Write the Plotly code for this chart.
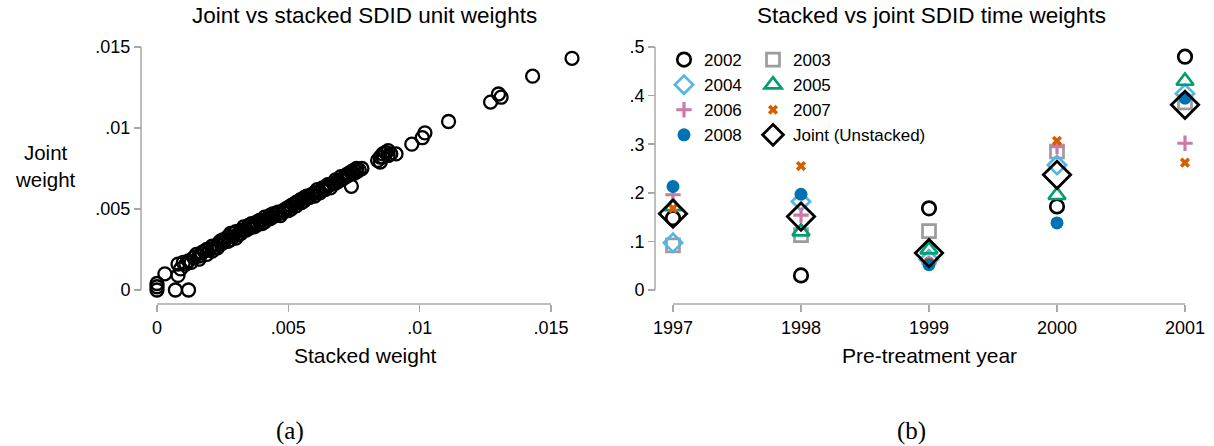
import plotly.graph_objects as go

# ---------------- Data ----------------
# Panel (a): unit weights (stacked vs joint SDID)
stacked_w = [0.0000, 0.0000, 0.0000, 0.0003, 0.0007, 0.0012, 0.0008, 0.0008, 0.0009, 0.0010,
             0.0011, 0.0012, 0.0014, 0.0015, 0.0016, 0.0017, 0.0018, 0.0019, 0.0020, 0.0021,
             0.0022, 0.0023, 0.0024, 0.0025, 0.0026, 0.0027, 0.0028, 0.0028, 0.0029, 0.0030,
             0.0031, 0.0032, 0.0033, 0.0034, 0.0035, 0.0036, 0.0037, 0.0038, 0.0039, 0.0040,
             0.0041, 0.0042, 0.0043, 0.0044, 0.0045, 0.0046, 0.0047, 0.0048, 0.0049, 0.0050,
             0.0051, 0.0052, 0.0053, 0.0054, 0.0055, 0.0056, 0.0057, 0.0058, 0.0059, 0.0060,
             0.0061, 0.0062, 0.0063, 0.0064, 0.0065, 0.0066, 0.0067, 0.0068, 0.0069, 0.0070,
             0.0071, 0.0072, 0.0073, 0.0074, 0.0074, 0.0075, 0.0076, 0.0077, 0.0078, 0.0084,
             0.0085, 0.0086, 0.0087, 0.0088, 0.0089, 0.0091, 0.0097, 0.0101, 0.0102, 0.0111,
             0.0127, 0.0130, 0.0131, 0.0143, 0.0158,
             0.0013, 0.0016, 0.0019, 0.0021, 0.0023, 0.0025, 0.0027, 0.0029, 0.0030, 0.0032,
             0.0033, 0.0035, 0.0036, 0.0038, 0.0040, 0.0041, 0.0043, 0.0044, 0.0046, 0.0048,
             0.0050, 0.0051, 0.0053, 0.0055, 0.0056, 0.0058, 0.0060, 0.0061, 0.0063, 0.0065,
             0.0066, 0.0068, 0.0070, 0.0072, 0.0073, 0.0075, 0.0076, 0.0086, 0.0085, 0.0088]
joint_w = [0.0000, 0.0002, 0.0004, 0.0010, 0.0000, 0.0000, 0.0009, 0.0016, 0.0013, 0.0017,
           0.0016, 0.0018, 0.0020, 0.0022, 0.0019, 0.0023, 0.0024, 0.0022, 0.0025, 0.0027,
           0.0026, 0.0028, 0.0030, 0.0029, 0.0031, 0.0033, 0.0031, 0.0035, 0.0033, 0.0036,
           0.0034, 0.0037, 0.0039, 0.0037, 0.0040, 0.0041, 0.0039, 0.0042, 0.0043, 0.0041,
           0.0045, 0.0044, 0.0046, 0.0045, 0.0047, 0.0048, 0.0046, 0.0049, 0.0050, 0.0049,
           0.0052, 0.0053, 0.0052, 0.0055, 0.0056, 0.0055, 0.0058, 0.0057, 0.0059, 0.0060,
           0.0062, 0.0060, 0.0063, 0.0062, 0.0065, 0.0063, 0.0066, 0.0068, 0.0067, 0.0070,
           0.0069, 0.0071, 0.0072, 0.0073, 0.0064, 0.0074, 0.0075, 0.0074, 0.0075, 0.0080,
           0.0082, 0.0084, 0.0085, 0.0086, 0.0084, 0.0084, 0.0090, 0.0094, 0.0097, 0.0104,
           0.0116, 0.0121, 0.0119, 0.0132, 0.0143,
           0.0017, 0.0021, 0.0025, 0.0024, 0.0026, 0.0031, 0.0030, 0.0035, 0.0032, 0.0035,
           0.0037, 0.0038, 0.0039, 0.0040, 0.0043, 0.0042, 0.0044, 0.0047, 0.0047, 0.0048,
           0.0051, 0.0050, 0.0054, 0.0054, 0.0057, 0.0058, 0.0058, 0.0060, 0.0062, 0.0064,
           0.0065, 0.0066, 0.0068, 0.0070, 0.0071, 0.0072, 0.0073, 0.0082, 0.0079, 0.0083]
unit_ticks = [0, 0.005, 0.01, 0.015]
unit_ticktext = ["0", ".005", ".01", ".015"]

# Panel (b): time weights per cohort
years = [1997, 1998, 1999, 2000, 2001]
w2002 = [0.148, 0.030, 0.168, 0.172, 0.480]
w2003 = [0.092, 0.113, 0.121, 0.285, 0.386]
w2004 = [0.097, 0.182, 0.063, 0.257, 0.404]
w2005 = [0.172, 0.120, 0.083, 0.195, 0.430]
w2006 = [0.196, 0.154, 0.055, 0.295, 0.302]
w2007 = [0.168, 0.255, 0.058, 0.307, 0.262]
w2008 = [0.213, 0.197, 0.052, 0.138, 0.395]
w_joint = [0.157, 0.151, 0.076, 0.237, 0.381]
time_ticks = [0, 0.1, 0.2, 0.3, 0.4, 0.5]
time_ticktext = ["0", ".1", ".2", ".3", ".4", ".5"]

# ---------------- Layout helpers ----------------
W, H = 1214, 446
FONT = "Liberation Sans, Arial, sans-serif"
SERIF = "Liberation Serif, DejaVu Serif, serif"
AXC = "#a8a8a8"


def fx(p):
    """screen pixel x -> paper fraction"""
    return p / W


def fy(p):
    """screen pixel y -> paper fraction"""
    return 1 - p / H


def domain_for(rng, v0, v1, p0, p1, vertical=False):
    """Domain so that value v0 lands on screen pixel p0 and v1 on p1."""
    scale = (p1 - p0) / (v1 - v0)
    a = p0 + (rng[0] - v0) * scale
    b = p0 + (rng[1] - v0) * scale
    if vertical:
        d = sorted([fy(a), fy(b)])
    else:
        d = sorted([fx(a), fx(b)])
    return [max(0.0, d[0]), min(1.0, d[1])]


xa_rng = [-0.0004, 0.0166]
ya_rng = [-0.0006, 0.0155]
xb_rng = [1996.8, 2001.15]
yb_rng = [-0.02, 0.52]

# screen-pixel anchors of the axes
XA_P = (157, 551)    # x = 0 and x = .015
YA_P = (290, 47)     # y = 0 and y = .015
XB_P = (673, 1185)   # 1997 and 2001
YB_P = (290, 47)     # 0 and .5
XLINE_Y = 304
YLINE_A_X = 141
YLINE_B_X = 655

fig = go.Figure()

fig.add_trace(go.Scatter(
    x=stacked_w, y=joint_w, mode="markers", xaxis="x", yaxis="y",
    marker=dict(symbol="circle-open", size=13, color="black",
                line=dict(color="black", width=2.3)),
    cliponaxis=False, showlegend=False, hoverinfo="skip"))

series = [
    ("2002", w2002, dict(symbol="circle-open", size=13.5, color="black", line=dict(color="black", width=2.7)), "legend"),
    ("2003", w2003, dict(symbol="square-open", size=13, color="#9c9c9c", line=dict(color="#9c9c9c", width=2.7)), "legend2"),
    ("2004", w2004, dict(symbol="diamond-open", size=14, color="#56b4e9", line=dict(color="#56b4e9", width=2.7)), "legend"),
    ("2005", w2005, dict(symbol="triangle-up-open", size=15, color="#009e73", line=dict(color="#009e73", width=2.7)), "legend2"),
    ("2006", w2006, dict(symbol="cross-thin-open", size=11, color="#cc79a7", line=dict(color="#cc79a7", width=3.2)), "legend"),
    ("2007", w2007, dict(symbol="x", size=9, color="#d55e00", line=dict(width=0)), "legend2"),
    ("2008", w2008, dict(symbol="circle", size=13, color="#0072b2", line=dict(width=0)), "legend"),
    ("Joint (Unstacked)", w_joint, dict(symbol="diamond-open", size=21, color="black", line=dict(color="black", width=2.8)), "legend2"),
]
for name, vals, mk, lg in series:
    fig.add_trace(go.Scatter(
        x=years, y=vals, mode="markers", name=name, xaxis="x2", yaxis="y2",
        marker=mk, cliponaxis=False, legend=lg, hoverinfo="skip"))

ax_common = dict(showgrid=False, zeroline=False, showline=False,
                 ticks="outside", ticklen=7, tickwidth=1.5, tickcolor=AXC,
                 tickfont=dict(size=18, color="black", family=FONT), fixedrange=True)

legend_common = dict(xanchor="left", yanchor="top", bgcolor="rgba(0,0,0,0)",
                     font=dict(size=17, family=FONT, color="black"), itemwidth=30,
                     tracegroupgap=0, itemclick=False, itemdoubleclick=False)

fig.update_layout(
    width=W, height=H, paper_bgcolor="white", plot_bgcolor="white", autosize=False,
    margin=dict(l=0, r=0, t=0, b=0, pad=0, autoexpand=False),
    font=dict(family=FONT, color="black"),
    xaxis=dict(ax_common, domain=domain_for(xa_rng, 0, 0.015, *XA_P), range=xa_rng,
               tickvals=unit_ticks, ticktext=unit_ticktext, anchor="free", position=fy(XLINE_Y)),
    yaxis=dict(ax_common, domain=domain_for(ya_rng, 0, 0.015, *YA_P, vertical=True), range=ya_rng,
               tickvals=unit_ticks, ticktext=unit_ticktext, anchor="free", position=fx(YLINE_A_X)),
    xaxis2=dict(ax_common, domain=domain_for(xb_rng, 1997, 2001, *XB_P), range=xb_rng,
                tickvals=years, ticktext=[str(y) for y in years], anchor="free", position=fy(XLINE_Y)),
    yaxis2=dict(ax_common, domain=domain_for(yb_rng, 0, 0.5, *YB_P, vertical=True), range=yb_rng,
                tickvals=time_ticks, ticktext=time_ticktext, anchor="free", position=fx(YLINE_B_X)),
    legend=dict(legend_common, x=fx(664), y=fy(42)),
    legend2=dict(legend_common, x=fx(753), y=fy(42)),
)

# Stata-style axis lines spanning only the labelled range
line_style = dict(color=AXC, width=1.5)
fig.add_shape(type="line", xref="x", yref="paper", x0=unit_ticks[0], x1=unit_ticks[-1],
              y0=fy(XLINE_Y), y1=fy(XLINE_Y), line=line_style)
fig.add_shape(type="line", xref="paper", yref="y", x0=fx(YLINE_A_X), x1=fx(YLINE_A_X),
              y0=unit_ticks[0], y1=unit_ticks[-1], line=line_style)
fig.add_shape(type="line", xref="x2", yref="paper", x0=years[0], x1=years[-1],
              y0=fy(XLINE_Y), y1=fy(XLINE_Y), line=line_style)
fig.add_shape(type="line", xref="paper", yref="y2", x0=fx(YLINE_B_X), x1=fx(YLINE_B_X),
              y0=time_ticks[0], y1=time_ticks[-1], line=line_style)

annots = [
    ("Joint vs stacked SDID unit weights", 364, 16, 22.5, FONT),
    ("Stacked vs joint SDID time weights", 931, 16, 22.5, FONT),
    ("Joint<br>weight", 45, 166, 20.5, FONT),
    ("Stacked weight", 365, 355, 21, FONT),
    ("Pre-treatment year", 929, 355, 21, FONT),
    ("(a)", 290, 431, 25, SERIF),
    ("(b)", 911, 431, 25, SERIF),
]
for txt, x, y, s, fam in annots:
    fig.add_annotation(text=txt, x=fx(x), y=fy(y), xref="paper", yref="paper",
                       xanchor="center", yanchor="middle", showarrow=False,
                       font=dict(size=s, family=fam, color="black"))

fig.write_html(
    "out.html",
    config={"displayModeBar": False, "staticPlot": True, "responsive": False},
    post_script="document.body.style.margin='0';document.body.style.overflow='hidden';",
)
